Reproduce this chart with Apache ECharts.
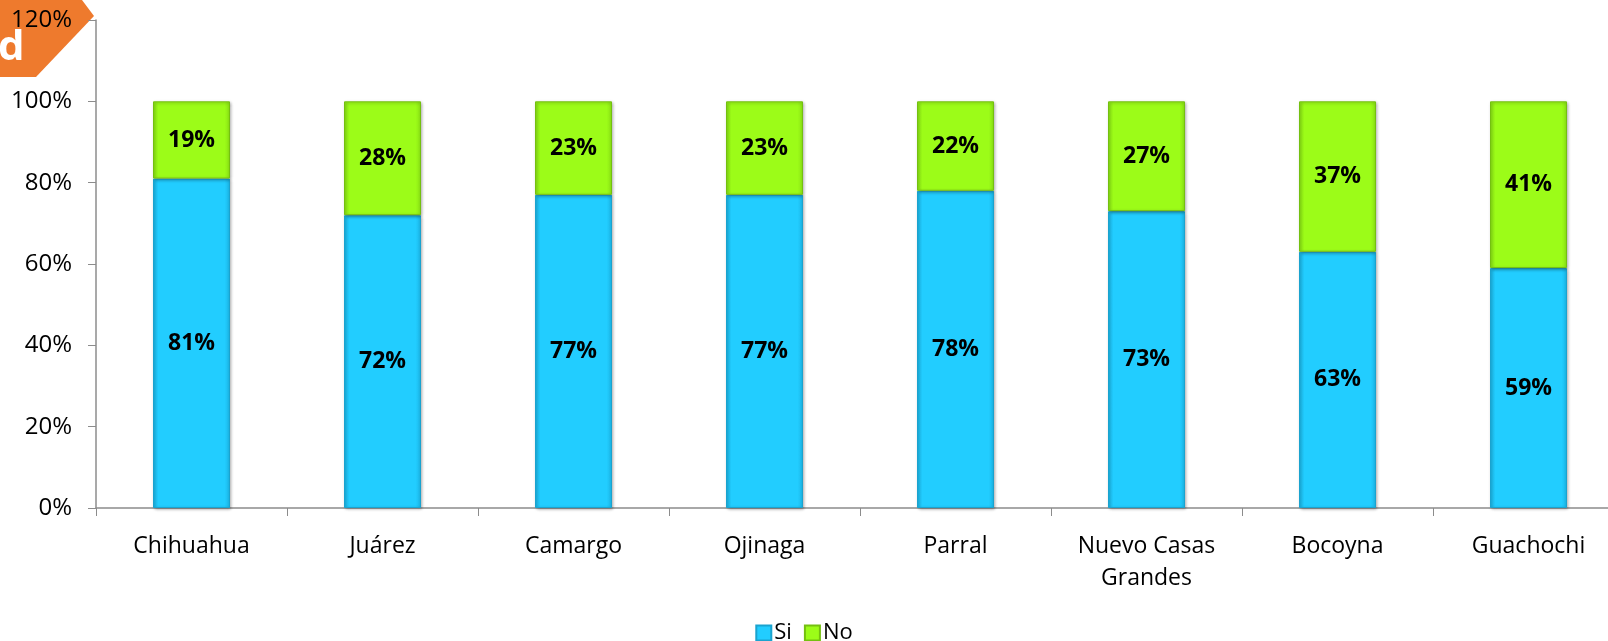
<!DOCTYPE html>
<html>
<head>
<meta charset="utf-8">
<script src="https://cdn.jsdelivr.net/npm/echarts@6/dist/echarts.min.js"></script>
<style>
  html, body { margin: 0; padding: 0; background: #fff; }
  #chart1 { width: 1608px; height: 641px; }
</style>
</head>
<body>
<div id="chart1"></div>
<script>
var categories = ['Chihuahua', 'Juárez', 'Camargo', 'Ojinaga', 'Parral', 'Nuevo Casas\nGrandes', 'Bocoyna', 'Guachochi'];
var siValues = [81, 72, 77, 77, 78, 73, 63, 59];
var noValues = [19, 28, 23, 23, 22, 27, 37, 41];
var seriesNames = ['Si', 'No'];

var chart = echarts.init(document.getElementById('chart1'));

var labelStyle = {
  show: true,
  position: 'inside',
  formatter: '{c}%',
  color: '#000',
  fontWeight: 'bold',
  fontSize: 23,
  fontFamily: 'Open Sans'
};

// bevel-ish fill: darker at the side edges
function bevel(edge, base) {
  return new echarts.graphic.LinearGradient(0, 0, 1, 0, [
    { offset: 0, color: edge },
    { offset: 0.07, color: base },
    { offset: 0.93, color: base },
    { offset: 1, color: edge }
  ]);
}

chart.setOption({
  animation: false,
  textStyle: { fontFamily: 'Open Sans' },
  grid: {
    left: 96,
    top: 20,
    width: 1528,
    bottom: 133,
    outerBoundsMode: 'none'
  },
  legend: {
    data: seriesNames,
    top: 617,
    left: 'center',
    icon: 'rect',
    itemWidth: 15,
    itemHeight: 15,
    itemGap: 12,
    textStyle: { fontSize: 22, color: '#000', fontFamily: 'Open Sans', padding: [0, 0, 0, -2] }
  },
  xAxis: {
    type: 'category',
    data: categories,
    axisLine: { lineStyle: { color: '#8c8c8c', width: 1.5 } },
    axisTick: { show: true, alignWithLabel: false, length: 8, lineStyle: { color: '#8c8c8c' } },
    axisLabel: { color: '#000', fontSize: 23, margin: 22, lineHeight: 32, interval: 0 }
  },
  yAxis: {
    type: 'value',
    min: 0,
    max: 120,
    interval: 20,
    splitLine: { show: false },
    axisLine: { show: true, lineStyle: { color: '#8c8c8c', width: 1.5 } },
    axisTick: { show: true, inside: false, length: 8, lineStyle: { color: '#8c8c8c' } },
    axisLabel: { color: '#000', fontSize: 24, formatter: '{value}%', margin: 24 }
  },
  series: [{
    name: 'Si',
    type: 'bar',
    stack: 'total',
    barWidth: 77,
    data: siValues,
    label: labelStyle,
    itemStyle: {
      color: bevel('#1bb5e6', '#22cdff'),
      borderColor: '#1aa3cf',
      borderWidth: 1,
      shadowColor: 'rgba(0,0,0,0.3)',
      shadowBlur: 3,
      shadowOffsetX: 1,
      shadowOffsetY: 1
    }
  }, {
    name: 'No',
    type: 'bar',
    stack: 'total',
    barWidth: 77,
    data: noValues,
    label: labelStyle,
    itemStyle: {
      color: bevel('#8ae214', '#9cfc18'),
      borderColor: '#74c010',
      borderWidth: 1,
      shadowColor: 'rgba(0,0,0,0.3)',
      shadowBlur: 3,
      shadowOffsetX: 1,
      shadowOffsetY: 1
    }
  }],
  graphic: [{
    type: 'polygon',
    z: -1,
    shape: { points: [[0, 0], [82, 0], [94, 16], [36, 77], [0, 77]] },
    style: { fill: '#ee7a2d' }
  }, {
    type: 'text',
    z: -1,
    left: -2,
    top: 27,
    style: { text: 'd', fill: '#fff', fontSize: 42, fontWeight: 'bold', fontFamily: 'Open Sans' }
  }]
});
</script>
</body>
</html>
